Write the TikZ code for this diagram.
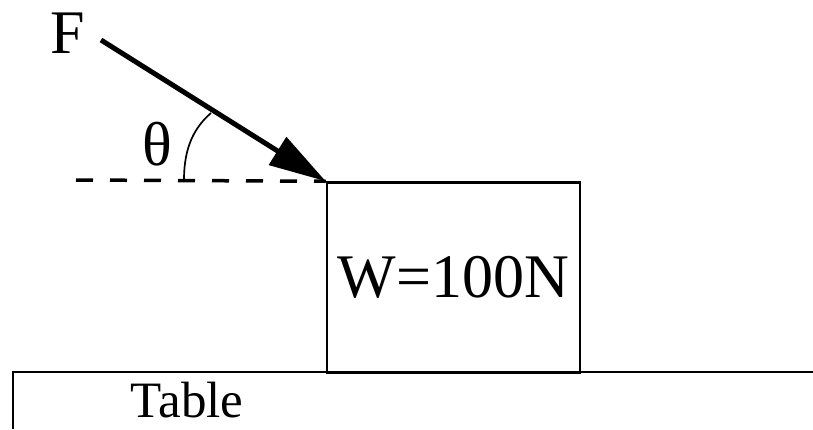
\documentclass[tikz,border=0pt]{standalone}
\usepackage{fontspec}
\setmainfont{Liberation Serif}
\usetikzlibrary{arrows.meta}
\begin{document}
\begin{tikzpicture}[x=1pt,y=-1pt,
  lbl/.style={inner sep=0pt, font=\fontsize{62}{62}\selectfont},
  blockbox/.style={draw, line width=2.5pt, rectangle, minimum width=253pt, minimum height=190pt, inner sep=0pt, font=\fontsize{62}{62}\selectfont},
  force/.style={line width=5pt, -{Triangle[length=57pt 0, width=32pt 0]}},
  refline/.style={line width=3.5pt, dash pattern=on 17pt off 17pt},
  thin/.style={line width=1.5pt}]
\useasboundingbox (0,0) rectangle (813,429);
\node[blockbox] (box) at (453.5,277.5) {W=100N};
\node[lbl] (F) at (68,33) {F};
\node[lbl] (theta) at (157,144) {θ};
\node[lbl, font=\fontsize{51}{51}\selectfont] (table) at (187,400) {Table};
\coordinate (fstart) at (101,40);
\coordinate (dstart) at (76,180);
\coordinate (arcA) at (184,180);
\coordinate (arcB) at (211,113);
\coordinate (tl) at (13,429);
\coordinate (tc) at (13,372);
\coordinate (tr) at (813,372);
\draw[refline] (dstart) -- (box.north west);
\draw[force] (fstart) -- (box.north west);
\draw[line width=1.7pt] (arcA) .. controls (184,146) and (195,127) .. (arcB);
\draw[thin] (tl) -- (tc) -- (tr);
\end{tikzpicture}
\end{document}
